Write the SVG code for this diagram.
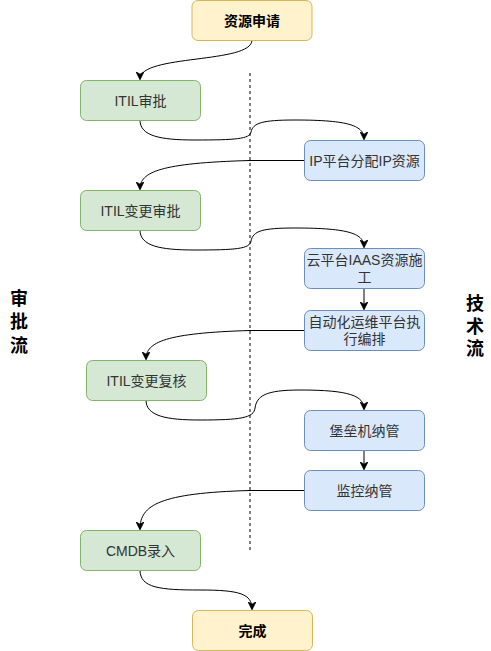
<svg xmlns="http://www.w3.org/2000/svg" width="491" height="651" viewBox="0 0 491 651">
<defs>
<style>
.y{fill:#fff2cc;stroke:#d6b656;stroke-width:1}
.g{fill:#d5e8d4;stroke:#82b366;stroke-width:1}
.b{fill:#dae8fc;stroke:#6c8ebf;stroke-width:1}
text{font-family:"Liberation Sans","Noto Sans CJK SC",sans-serif;font-size:14px;fill:#333;text-anchor:middle;dominant-baseline:central}
.bold{font-weight:bold;fill:#000}
.side{font-size:18px;font-weight:bold;fill:#000}
.c{fill:none;stroke:#000;stroke-width:1}
</style>
<marker id="ar" viewBox="0 0 10 10" refX="9" refY="5" markerWidth="8" markerHeight="8" orient="auto" markerUnits="userSpaceOnUse">
<path d="M0,0 L10,5 L0,10 L3,5 z" fill="#000" stroke="#000" stroke-width="1"/>
</marker>
</defs>
<rect width="491" height="651" fill="#fff"/>
<line x1="250" y1="73" x2="250" y2="550" stroke="#000" stroke-dasharray="3 3"/>
<g id="connectors">
<path class="c" marker-end="url(#ar)" d="M252 40 C252 64 140 54 140 79"/>
<path class="c" marker-end="url(#ar)" d="M140 120 C140 136 160 140 195 140 C235 140 250 139 251 132 C253 123 262 120 295 120 C350 120 364 126 364 139"/>
<path class="c" marker-end="url(#ar)" d="M304 160.5 L250 160.5 C160 163 140 172 140 189"/>
<path class="c" marker-end="url(#ar)" d="M140 230 C140 246 160 250 195 250 C235 250 250 249 251 241 C253 231 262 228 295 228 C350 228 364 234 364 247"/>
<path class="c" marker-end="url(#ar)" d="M364 288 L364 309"/>
<path class="c" marker-end="url(#ar)" d="M304 330.5 L250 330.5 C166 333 146 342 146 359"/>
<path class="c" marker-end="url(#ar)" d="M146 400 C146 416 166 420 200 420 C240 420 254 418 255 408 C257 396 265 390 300 390 C350 390 364 396 364 409"/>
<path class="c" marker-end="url(#ar)" d="M364 450 L364 469"/>
<path class="c" marker-end="url(#ar)" d="M304 490.5 L250 490.5 C160 493 140 505 140 529"/>
<path class="c" marker-end="url(#ar)" d="M140 570 C140 588 160 590 200 590 C240 590 252 594 252 609"/>
</g>
<g id="n1"><rect class="y" x="192" y="0.5" width="120" height="40" rx="6"/><text class="bold" x="252" y="20.5">资源申请</text></g>
<g id="n2"><rect class="g" x="80.5" y="80.5" width="120" height="40" rx="6"/><text x="140.5" y="100.5">ITIL审批</text></g>
<g id="n3"><rect class="b" x="304.5" y="140.5" width="120" height="40" rx="6"/><text x="364.5" y="160.5">IP平台分配IP资源</text></g>
<g id="n4"><rect class="g" x="80.5" y="190.5" width="120" height="40" rx="6"/><text x="140.5" y="210.5">ITIL变更审批</text></g>
<g id="n5"><rect class="b" x="304.5" y="248.5" width="120" height="40" rx="6"/><text x="364.5" y="260">云平台IAAS资源施</text><text x="364.5" y="277">工</text></g>
<g id="n6"><rect class="b" x="304.5" y="310.5" width="120" height="40" rx="6"/><text x="364.5" y="322">自动化运维平台执</text><text x="364.5" y="339">行编排</text></g>
<g id="n7"><rect class="g" x="86.5" y="360.5" width="120" height="40" rx="6"/><text x="146.5" y="380.5">ITIL变更复核</text></g>
<g id="n8"><rect class="b" x="304.5" y="410.5" width="120" height="40" rx="6"/><text x="364.5" y="430.5">堡垒机纳管</text></g>
<g id="n9"><rect class="b" x="304.5" y="470.5" width="120" height="40" rx="6"/><text x="364.5" y="490.5">监控纳管</text></g>
<g id="n10"><rect class="g" x="80.5" y="530.5" width="120" height="40" rx="6"/><text x="140.5" y="550.5">CMDB录入</text></g>
<g id="n11"><rect class="y" x="192.5" y="610.5" width="120" height="40" rx="6"/><text class="bold" x="252.5" y="630.5">完成</text></g>
<g id="lbl-left"><text class="side" x="19" y="299">审</text><text class="side" x="19" y="322">批</text><text class="side" x="19" y="346">流</text></g>
<g id="lbl-right"><text class="side" x="475" y="304">技</text><text class="side" x="475" y="327">术</text><text class="side" x="475" y="349">流</text></g>
</svg>
